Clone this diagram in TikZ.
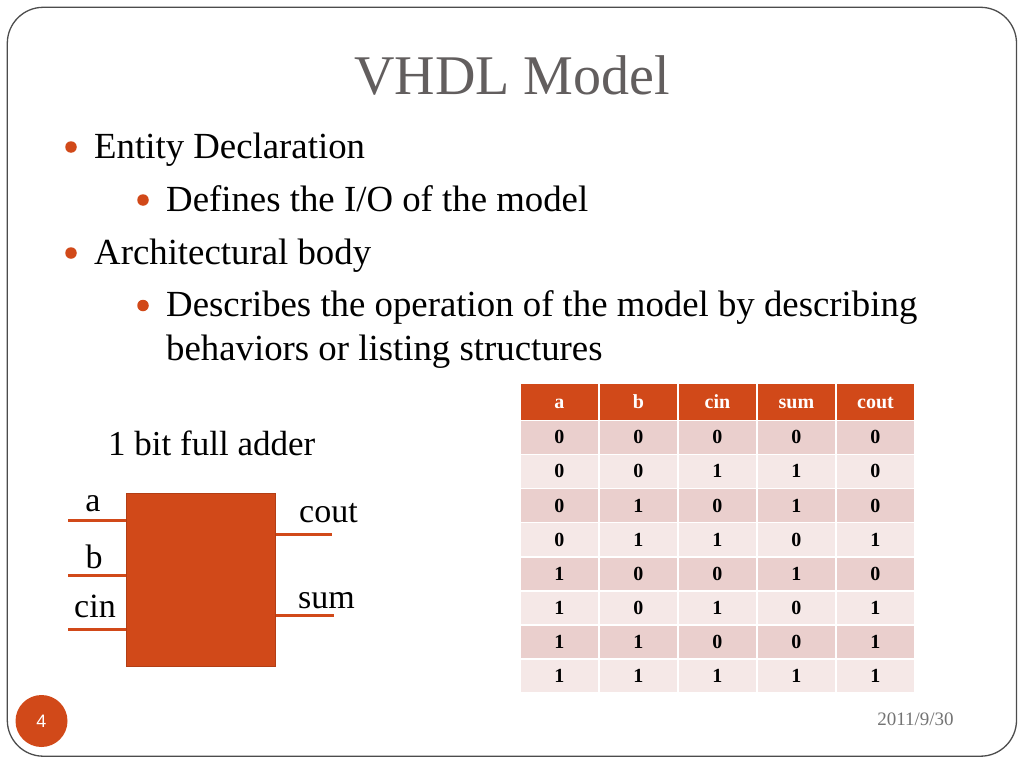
\documentclass[tikz,border=0pt]{standalone}
\usepackage{fontspec}
\setmainfont{Liberation Serif}
\setsansfont{Liberation Sans}
\usepackage{tikz}
\usetikzlibrary{matrix,positioning}
\definecolor{rust}{RGB}{209,73,25}
\definecolor{rowdark}{RGB}{234,207,205}
\definecolor{rowlight}{RGB}{245,232,231}
\definecolor{titlegray}{RGB}{98,94,94}
\newcommand{\fsz}[1]{\fontsize{#1}{#1}\selectfont}
\tikzset{
	item/.style={anchor=base west,inner sep=0pt,font=\fsz{36.8}},
	dot/.style={circle,fill=rust,inner sep=0pt,minimum size=11.5pt},
	pin/.style={draw=rust,line width=3pt},
	pinlabel/.style={inner sep=0pt,font=\fsz{34}}
}
\begin{document}
\begin{tikzpicture}[x=1pt,y=-1pt]
	\useasboundingbox (0,0) rectangle (1024,768);
	\draw[black!70,line width=1.3pt,rounded corners=36pt] (7.3,7.3) rectangle (1016.5,756.2);
	\node[anchor=base,inner sep=0pt,text=titlegray,font=\fsz{56}] (title) at (512,94) {VHDL Model};

	\node[dot] (d1) at (71,147) {};
	\node[item] (i1) at (94,158) {Entity Declaration};
	\node[dot] (d2) at (143,200) {};
	\node[item] (i2) at (166,211.7) {Defines the I/O of the model};
	\node[dot] (d3) at (71,253) {};
	\node[item] (i3) at (94,264.3) {Architectural body};
	\node[dot] (d4) at (143,305.5) {};
	\node[item] (i4) at (166,316.7) {Describes the operation of the model by describing};
	\node[item] (i5) at (166,360) {behaviors or listing structures};

	\node[anchor=base west,inner sep=0pt,font=\fsz{35}] (cap) at (108,455.7) {1 bit full adder};
	\node[fill=rust,draw=rust!85!black,line width=0.8pt,minimum width=148.6pt,minimum height=173.4pt] (fa) at (201,580) {};
	\coordinate (ina) at (68,520.7);
	\coordinate (inb) at (68,575.3);
	\coordinate (inc) at (68,629.3);
	\coordinate (outc) at (332,534);
	\coordinate (outs) at (334,615.7);
	\draw[pin] (ina) -- (ina -| fa.west);
	\draw[pin] (inb) -- (inb -| fa.west);
	\draw[pin] (inc) -- (inc -| fa.west);
	\draw[pin] (outc -| fa.east) -- (outc);
	\draw[pin] (outs -| fa.east) -- (outs);
	\node[pinlabel,anchor=base] (la) at (93,511) {a};
	\node[pinlabel,anchor=base] (lb) at (94,568) {b};
	\node[pinlabel,anchor=base] (lc) at (95,617) {cin};
	\node[pinlabel,anchor=base west] (lco) at (299,522) {cout};
	\node[pinlabel,anchor=base west] (ls) at (298,608) {sum};

	\matrix (tt) [matrix of nodes,anchor=north west,inner sep=0pt,outer sep=0pt,column sep=1.5pt,row sep=1.6pt,
		nodes={fill=rowdark,minimum width=77.5pt,minimum height=32.5pt,inner sep=0pt,anchor=center,
			text height=13pt,text depth=0pt,font=\bfseries\fsz{20}},
		row 1/.style={nodes={fill=rust,text=white,minimum height=35.5pt}},
		row 3/.style={nodes={fill=rowlight}},
		row 5/.style={nodes={fill=rowlight}},
		row 7/.style={nodes={fill=rowlight}},
		row 9/.style={nodes={fill=rowlight}}] at (520.7,384)
	{
		a & b & cin & sum & cout \\
		0 & 0 & 0 & 0 & 0 \\
		0 & 0 & 1 & 1 & 0 \\
		0 & 1 & 0 & 1 & 0 \\
		0 & 1 & 1 & 0 & 1 \\
		1 & 0 & 0 & 1 & 0 \\
		1 & 0 & 1 & 0 & 1 \\
		1 & 1 & 0 & 0 & 1 \\
		1 & 1 & 1 & 1 & 1 \\};

	\node[circle,fill=rust,minimum size=52pt,inner sep=0pt,text=white,font=\sffamily\fsz{18}] (pg) at (41.5,721) {4};
	\node[anchor=base,inner sep=0pt,text=black!55,font=\fsz{19}] (date) at (915.5,725) {2011/9/30};
\end{tikzpicture}
\end{document}
